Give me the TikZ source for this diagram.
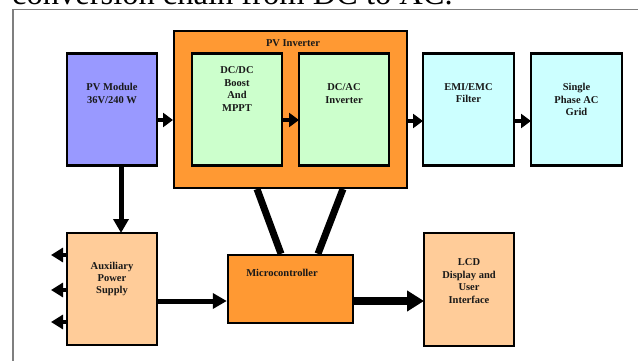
\documentclass[tikz,border=0pt]{standalone}
\usepackage{fontspec}
\setmainfont{Liberation Serif}
\usetikzlibrary{arrows.meta}
\definecolor{pvblue}{HTML}{9999FF}
\definecolor{lgreen}{HTML}{CCFFCC}
\definecolor{orng}{HTML}{FF9933}
\definecolor{lcyan}{HTML}{CCFFFF}
\definecolor{peach}{HTML}{FFCC99}
\definecolor{framegray}{HTML}{7F7F7F}
\tikzset{
  blk/.style={draw=black, line width=2.6pt, inner sep=0pt, outer sep=0pt},
  lab/.style={font=\fontsize{10.5}{12.4}\selectfont\bfseries, align=center, inner sep=0pt, text=black!90},
  arr/.style={line width=4pt, -{Triangle[length=10pt,width=14pt]}},
  bigarr/.style={line width=8pt, -{Triangle[length=17pt,width=20pt]}},
  link/.style={line width=7pt},
}
\begin{document}
\begin{tikzpicture}[x=1pt,y=-1pt]
\useasboundingbox (0,0) rectangle (638,361);
\clip (0,0) rectangle (638,361);
% title (cut off at top)
\node[anchor=base west, inner sep=0pt, font=\fontsize{32.5}{36}\selectfont] (title) at (12,4.5) {conversion chain from DC to AC.};
% frame
\draw[framegray, line width=1.2pt] (13,362) -- (13,9.5) -- (640,9.5);
% boxes
\node[blk, fill=pvblue, minimum width=90pt, minimum height=112pt] (pv) at (112,109.5) {};
\node[draw=black, line width=2pt, fill=orng, inner sep=0pt, minimum width=233pt, minimum height=157pt] (inv) at (290.5,109.5) {};
\node[blk, fill=lgreen, minimum width=90pt, minimum height=112pt] (dcdc) at (237,109.5) {};
\node[blk, fill=lgreen, minimum width=90pt, minimum height=112pt] (dcac) at (344,109.5) {};
\node[blk, fill=lcyan, minimum width=91pt, minimum height=112pt] (emi) at (468.5,109.5) {};
\node[blk, fill=lcyan, minimum width=91pt, minimum height=112pt] (grid) at (576.5,109.5) {};
\node[blk, fill=peach, minimum width=90pt, minimum height=112pt] (aux) at (112,289) {};
\node[draw=black, line width=2.4pt, fill=orng, inner sep=0pt, minimum width=125pt, minimum height=68pt] (mcu) at (290.5,289) {};
\node[blk, fill=peach, minimum width=90pt, minimum height=113pt] (lcd) at (469,289.5) {};
% labels
\node[lab] (tinv) at (293,43) {PV Inverter};
\node[lab] (tpv) at (112,93.5) {PV Module\\36V/240 W};
\node[lab] (tdcdc) at (237,89) {DC/DC\\Boost\\And\\MPPT};
\node[lab] (tdcac) at (344,93.5) {DC/AC\\Inverter};
\node[lab] (temi) at (468.5,93) {EMI/EMC\\Filter};
\node[lab] (tgrid) at (576.5,99.5) {Single\\Phase AC\\Grid};
\node[lab] (taux) at (112,279) {Auxiliary\\Power\\Supply};
\node[lab] (tmcu) at (282,273) {Microcontroller};
\node[lab] (tlcd) at (469,281) {LCD\\Display and\\User\\Interface};
% connectors
\draw[arr] (pv.east |- 0,120) -- (inv.west |- 0,120);
\draw[arr] (dcdc.east |- 0,120) -- (dcac.west |- 0,120);
\draw[arr] (inv.east |- 0,121) -- (emi.west |- 0,121);
\draw[arr] (emi.east |- 0,121) -- (grid.west |- 0,121);
\draw[line width=5pt, -{Triangle[length=14pt,width=15pt]}] (pv.south -| 121,0) -- (aux.north -| 121,0);
\draw[line width=5pt, -{Triangle[length=14pt,width=15pt]}] (aux.east |- 0,301) -- (mcu.west |- 0,301);
\draw[bigarr] (mcu.east |- 0,301) -- (lcd.west |- 0,301);
\draw[link] (inv.south -| 257,0) -- (mcu.north -| 281,0);
\draw[link] (inv.south -| 343,0) -- (mcu.north -| 318,0);
% auxiliary outputs
\coordinate (o1) at (51,255);
\coordinate (o2) at (51,290);
\coordinate (o3) at (51,322);
\foreach \o in {o1,o2,o3}{
  \draw[line width=4pt, -{Triangle[length=12pt,width=14pt]}] (aux.west |- \o) -- (\o);
}
\end{tikzpicture}
\end{document}
